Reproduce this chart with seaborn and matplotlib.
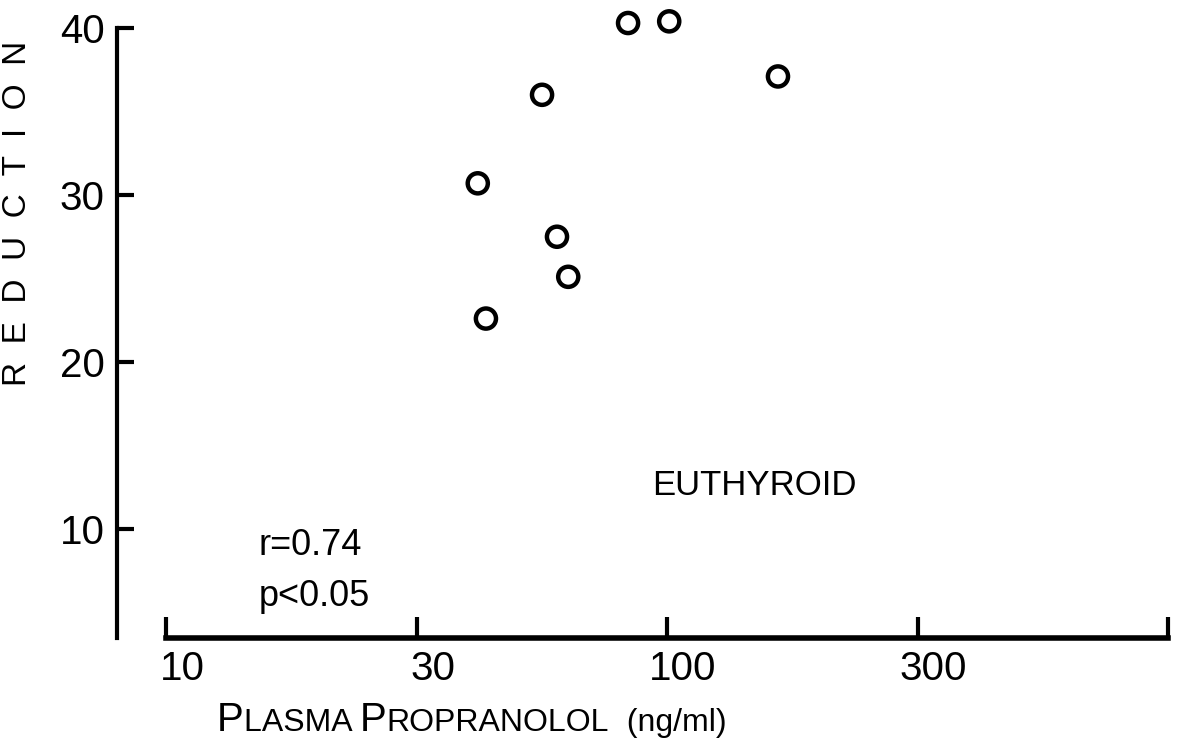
import matplotlib
matplotlib.use('Agg')
import numpy as np
import pandas as pd
import matplotlib.pyplot as plt
import matplotlib.transforms as mtransforms
from matplotlib.ticker import NullLocator
from matplotlib.offsetbox import TextArea, HPacker, AnchoredOffsetbox
import seaborn as sns

# ---- data ----
propranolol = [41.9, 43.5, 56.3, 60.3, 63.5, 83.6, 101.0, 166.5]   # ng/ml
reduction = [30.7, 22.6, 36.0, 27.5, 25.1, 40.3, 40.4, 37.1]

# the original axis puts "30" and "300" half way between the decades
x_ticks = [10, 10 ** 1.5, 100, 10 ** 2.5, 1000]
x_tick_labels = ['10', '30', '100', '300', '']
y_ticks = [10, 20, 30, 40]

sns.set_theme(style='white')
plt.rcParams['font.family'] = ['Liberation Sans', 'DejaVu Sans']
plt.rcParams['text.color'] = 'black'
plt.rcParams['xtick.color'] = 'black'
plt.rcParams['ytick.color'] = 'black'

fig = plt.figure(figsize=(11.85, 7.44), dpi=100)
ax = fig.add_axes([0.0987, 0.1425, 0.8929, 0.8333])

df = pd.DataFrame({'conc': propranolol, 'red': reduction})
sns.scatterplot(data=df, x='conc', y='red', ax=ax, s=210, marker='o',
                color='black', linewidth=3.2)
pts = ax.collections[0]
pts.set_facecolor('none')
pts.set_edgecolor('black')
pts.set_clip_on(False)

ax.set_xscale('log')
ax.set_xlim(10 ** 0.902, 10 ** 3.014)
ax.set_ylim(3.47, 40.6)

# detached axes like the hand drawn original
for side in ['top', 'right']:
    ax.spines[side].set_visible(False)
ax.spines['left'].set_bounds(3.47, 40)
ax.spines['bottom'].set_bounds(10, 1000)
ax.spines['left'].set_linewidth(3)
ax.spines['bottom'].set_linewidth(4)
ax.spines['left'].set_color('black')
ax.spines['bottom'].set_color('black')

ax.set_xticks(x_ticks)
ax.set_xticklabels(x_tick_labels)
ax.xaxis.set_minor_locator(NullLocator())
ax.set_yticks(y_ticks)
ax.set_yticklabels([str(v) for v in y_ticks])
ax.tick_params(axis='x', direction='in', length=15, width=3,
               labelsize=29, pad=9, bottom=True)
ax.tick_params(axis='y', direction='in', length=12, width=3,
               labelsize=29, pad=9, left=True)

# labels under the x axis sit a bit right of their ticks
shift = mtransforms.ScaledTranslation(0.16, 0, fig.dpi_scale_trans)
for lbl in ax.get_xticklabels():
    lbl.set_transform(lbl.get_transform() + shift)

ax.set_xlabel('')
ax.set_ylabel('')

# vertical spaced label
fig.text(0.015, 0.713, 'R  E  D  U  C  T  I  O  N', rotation=90,
         ha='center', va='center', fontsize=24)

# small caps x label
parts = [('P', 29), ('LASMA ', 23), ('P', 29), ('ROPRANOLOL', 23), ('  (ng/ml)', 23)]
boxes = [TextArea(t, textprops=dict(fontsize=s, color='black')) for t, s in parts]
pack = HPacker(children=boxes, align='baseline', pad=0, sep=0)
anchored = AnchoredOffsetbox(loc='center', child=pack, pad=0, frameon=False,
                             bbox_to_anchor=(0.398, 0.032),
                             bbox_transform=fig.transFigure, borderpad=0)
fig.add_artist(anchored)

fig.text(0.637, 0.348, 'EUTHYROID', ha='center', va='center', fontsize=25)
fig.text(0.218, 0.267, 'r=0.74', ha='left', va='center', fontsize=26)
fig.text(0.218, 0.198, 'p<0.05', ha='left', va='center', fontsize=26)

fig.savefig('out.png', dpi=100, facecolor='white')
